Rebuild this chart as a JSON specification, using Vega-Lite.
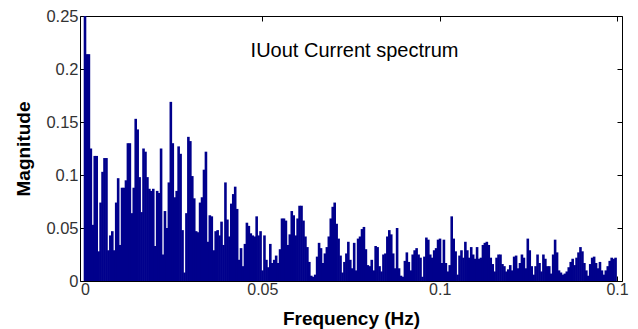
{
"$schema":"https://vega.github.io/schema/vega-lite/v6.json",
"width":542,"height":265,
"autosize":"none",
"padding":{"left":80,"top":16,"right":16,"bottom":48},
"background":"white",
"config":{"view":{"stroke":"#000","strokeWidth":1},"font":"Liberation Sans"},
"layer":[
{"data":{"values":[
{"f":0,"m":0.25},{"f":0.00055,"m":0.214},{"f":0.0011,"m":0.214},{"f":0.00165,"m":0.125},{"f":0.0022,"m":0.053},{"f":0.00275,"m":0.118},{"f":0.0033,"m":0.118},{"f":0.00385,"m":0.028},{"f":0.0044,"m":0.074},{"f":0.00495,"m":0.103},
{"f":0.0055,"m":0.116},{"f":0.00605,"m":0.116},{"f":0.0066,"m":0.029},{"f":0.00715,"m":0.043},{"f":0.0077,"m":0.047},{"f":0.00825,"m":0.029},{"f":0.0088,"m":0.074},{"f":0.00935,"m":0.097},{"f":0.0099,"m":0.034},{"f":0.01045,"m":0.088},
{"f":0.011,"m":0.088},{"f":0.01155,"m":0.095},{"f":0.0121,"m":0.13},{"f":0.01265,"m":0.13},{"f":0.0132,"m":0.064},{"f":0.01375,"m":0.088},{"f":0.0143,"m":0.153},{"f":0.01485,"m":0.143},{"f":0.0154,"m":0.098},{"f":0.01595,"m":0.065},
{"f":0.0165,"m":0.125},{"f":0.01705,"m":0.122},{"f":0.0176,"m":0.098},{"f":0.01815,"m":0.087},{"f":0.0187,"m":0.085},{"f":0.01925,"m":0.087},{"f":0.0198,"m":0.033},{"f":0.02035,"m":0.085},{"f":0.0209,"m":0.083},{"f":0.02145,"m":0.125},
{"f":0.022,"m":0.025},{"f":0.02255,"m":0.066},{"f":0.0231,"m":0.05},{"f":0.02365,"m":0.093},{"f":0.0242,"m":0.169},{"f":0.02475,"m":0.13},{"f":0.0253,"m":0.079},{"f":0.02585,"m":0.085},{"f":0.0264,"m":0.127},{"f":0.02695,"m":0.12},
{"f":0.0275,"m":0.048},{"f":0.02805,"m":0.008},{"f":0.0286,"m":0.064},{"f":0.02915,"m":0.136},{"f":0.0297,"m":0.132},{"f":0.03025,"m":0.099},{"f":0.0308,"m":0.078},{"f":0.03135,"m":0.047},{"f":0.0319,"m":0.046},{"f":0.03245,"m":0.074},
{"f":0.033,"m":0.079},{"f":0.03355,"m":0.105},{"f":0.0341,"m":0.122},{"f":0.03465,"m":0.037},{"f":0.0352,"m":0.062},{"f":0.03575,"m":0.061},{"f":0.0363,"m":0.029},{"f":0.03685,"m":0.047},{"f":0.0374,"m":0.048},{"f":0.03795,"m":0.043},
{"f":0.0385,"m":0.056},{"f":0.03905,"m":0.034},{"f":0.0396,"m":0.093},{"f":0.04015,"m":0.058},{"f":0.0407,"m":0.042},{"f":0.04125,"m":0.073},{"f":0.0418,"m":0.082},{"f":0.04235,"m":0.089},{"f":0.0429,"m":0.068},{"f":0.04345,"m":0.02},
{"f":0.044,"m":0.031},{"f":0.04455,"m":0.014},{"f":0.0451,"m":0.035},{"f":0.04565,"m":0.055},{"f":0.0462,"m":0.052},{"f":0.04675,"m":0.045},{"f":0.0473,"m":0.043},{"f":0.04785,"m":0.042},{"f":0.0484,"m":0.061},{"f":0.04895,"m":0.043},
{"f":0.0495,"m":0.047},{"f":0.05005,"m":0.01},{"f":0.0506,"m":0.043},{"f":0.05115,"m":0.02},{"f":0.0517,"m":0.013},{"f":0.05225,"m":0.035},{"f":0.0528,"m":0.017},{"f":0.05335,"m":0.02},{"f":0.0539,"m":0.024},{"f":0.05445,"m":0.017},
{"f":0.055,"m":0.03},{"f":0.05555,"m":0.059},{"f":0.0561,"m":0.059},{"f":0.05665,"m":0.057},{"f":0.0572,"m":0.034},{"f":0.05775,"m":0.044},{"f":0.0583,"m":0.066},{"f":0.05885,"m":0.062},{"f":0.0594,"m":0.043},{"f":0.05995,"m":0.059},
{"f":0.0605,"m":0.071},{"f":0.06105,"m":0.071},{"f":0.0616,"m":0.057},{"f":0.06215,"m":0.042},{"f":0.0627,"m":0.032},{"f":0.06325,"m":0.018},{"f":0.0638,"m":0.005},{"f":0.06435,"m":0.004},{"f":0.0649,"m":0.006},{"f":0.06545,"m":0.023},
{"f":0.066,"m":0.036},{"f":0.06655,"m":0.031},{"f":0.0671,"m":0.017},{"f":0.06765,"m":0.026},{"f":0.0682,"m":0.032},{"f":0.06875,"m":0.042},{"f":0.0693,"m":0.059},{"f":0.06985,"m":0.07},{"f":0.0704,"m":0.074},{"f":0.07095,"m":0.054},
{"f":0.0715,"m":0.04},{"f":0.07205,"m":0.024},{"f":0.0726,"m":0.008},{"f":0.07315,"m":0.018},{"f":0.0737,"m":0.026},{"f":0.07425,"m":0.037},{"f":0.0748,"m":0.02},{"f":0.07535,"m":0.012},{"f":0.0759,"m":0.036},{"f":0.07645,"m":0.01},
{"f":0.077,"m":0.04},{"f":0.07755,"m":0.042},{"f":0.0781,"m":0.049},{"f":0.07865,"m":0.051},{"f":0.0792,"m":0.03},{"f":0.07975,"m":0.015},{"f":0.0803,"m":0.014},{"f":0.08085,"m":0.02},{"f":0.0814,"m":0.01},{"f":0.08195,"m":0.033},
{"f":0.0825,"m":0.032},{"f":0.08305,"m":0.014},{"f":0.0836,"m":0.009},{"f":0.08415,"m":0.025},{"f":0.0847,"m":0.026},{"f":0.08525,"m":0.042},{"f":0.0858,"m":0.048},{"f":0.08635,"m":0.044},{"f":0.0869,"m":0.026},{"f":0.08745,"m":0.012},
{"f":0.088,"m":0.05},{"f":0.08855,"m":0.012},{"f":0.0891,"m":0.005},{"f":0.08965,"m":0.004},{"f":0.0902,"m":0.019},{"f":0.09075,"m":0.027},{"f":0.0913,"m":0.018},{"f":0.09185,"m":0.01},{"f":0.0924,"m":0.025},{"f":0.09295,"m":0.029},
{"f":0.0935,"m":0.031},{"f":0.09405,"m":0.025},{"f":0.0946,"m":0.022},{"f":0.09515,"m":0.004},{"f":0.0957,"m":0.023},{"f":0.09625,"m":0.041},{"f":0.0968,"m":0.039},{"f":0.09735,"m":0.025},{"f":0.0979,"m":0.022},{"f":0.09845,"m":0.029},
{"f":0.099,"m":0.031},{"f":0.09955,"m":0.039},{"f":0.1001,"m":0.04},{"f":0.10065,"m":0.017},{"f":0.1012,"m":0.039},{"f":0.10175,"m":0.017},{"f":0.1023,"m":0.009},{"f":0.10285,"m":0.015},{"f":0.1034,"m":0.061},{"f":0.10395,"m":0.04},
{"f":0.1045,"m":0.028},{"f":0.10505,"m":0.006},{"f":0.1056,"m":0.024},{"f":0.10615,"m":0.029},{"f":0.1067,"m":0.022},{"f":0.10725,"m":0.037},{"f":0.1078,"m":0.029},{"f":0.10835,"m":0.022},{"f":0.1089,"m":0.032},{"f":0.10945,"m":0.025},
{"f":0.11,"m":0.021},{"f":0.11055,"m":0.032},{"f":0.1111,"m":0.021},{"f":0.11165,"m":0.022},{"f":0.1122,"m":0.034},{"f":0.11275,"m":0.036},{"f":0.1133,"m":0.037},{"f":0.11385,"m":0.034},{"f":0.1144,"m":0.022},{"f":0.11495,"m":0.016},
{"f":0.1155,"m":0.009},{"f":0.11605,"m":0.022},{"f":0.1166,"m":0.025},{"f":0.11715,"m":0.025},{"f":0.1177,"m":0.016},{"f":0.11825,"m":0.014},{"f":0.1188,"m":0.009},{"f":0.11935,"m":0.011},{"f":0.1199,"m":0.015},{"f":0.12045,"m":0.01},
{"f":0.121,"m":0.023},{"f":0.12155,"m":0.024},{"f":0.1221,"m":0.012},{"f":0.12265,"m":0.017},{"f":0.1232,"m":0.025},{"f":0.12375,"m":0.022},{"f":0.1243,"m":0.012},{"f":0.12485,"m":0.04},{"f":0.1254,"m":0.029},{"f":0.12595,"m":0.014},
{"f":0.1265,"m":0.006},{"f":0.12705,"m":0.014},{"f":0.1276,"m":0.025},{"f":0.12815,"m":0.017},{"f":0.1287,"m":0.009},{"f":0.12925,"m":0.025},{"f":0.1298,"m":0.021},{"f":0.13035,"m":0.014},{"f":0.1309,"m":0.014},{"f":0.13145,"m":0.007},
{"f":0.132,"m":0.025},{"f":0.13255,"m":0.039},{"f":0.1331,"m":0.027},{"f":0.13365,"m":0.01},{"f":0.1342,"m":0.008},{"f":0.13475,"m":0.006},{"f":0.1353,"m":0.007},{"f":0.13585,"m":0.009},{"f":0.1364,"m":0.013},{"f":0.13695,"m":0.018},
{"f":0.1375,"m":0.021},{"f":0.13805,"m":0.015},{"f":0.1386,"m":0.022},{"f":0.13915,"m":0.027},{"f":0.1397,"m":0.032},{"f":0.14025,"m":0.028},{"f":0.1408,"m":0.017},{"f":0.14135,"m":0.01},{"f":0.1419,"m":0.005},{"f":0.14245,"m":0.016},
{"f":0.143,"m":0.022},{"f":0.14355,"m":0.023},{"f":0.1441,"m":0.017},{"f":0.14465,"m":0.012},{"f":0.1452,"m":0.018},{"f":0.14575,"m":0.01},{"f":0.1463,"m":0.006},{"f":0.14685,"m":0.01},{"f":0.1474,"m":0.014},{"f":0.14795,"m":0.019},
{"f":0.1485,"m":0.022},{"f":0.14905,"m":0.021},{"f":0.1496,"m":0.022}
]},
"mark":{"type":"bar","color":"#00008c","width":2.6,"opacity":1,"clip":true},
"encoding":{
"x":{"field":"f","type":"quantitative","scale":{"domain":[0,0.15],"nice":false,"zero":false},
"axis":{"orient":"bottom","values":[0,0.05,0.1,0.15],"format":".2~f","labelExpr":"datum.value > 0.12 ? '0.1' : datum.label","grid":false,"domain":false,"ticks":true,"tickSize":-5,"tickColor":"#000","labelFontSize":16,"labelColor":"#333","labelPadding":5,"labelFlush":false,"labelOverlap":false,"title":"Frequency (Hz)","titleFontSize":19,"titleFontWeight":"bold","titleColor":"#000","titleX":271,"titleY":43,"titleBaseline":"alphabetic","titleAlign":"center"}},
"y":{"field":"m","type":"quantitative","scale":{"domain":[0,0.25],"nice":false},
"axis":{"orient":"left","values":[0,0.05,0.1,0.15,0.2,0.25],"format":".2~f","grid":false,"domain":false,"tickSize":-5,"tickColor":"#000","labelFontSize":16.5,"labelColor":"#333","labelPadding":7,"labelOverlap":false,"title":"Magnitude","titleFontSize":19,"titleFontWeight":"bold","titleColor":"#000","titleX":-51,"titleY":132.5,"titleAngle":-90,"titleBaseline":"alphabetic","titleAlign":"center"}}
}},
{"data":{"values":[{"label":"IUout Current spectrum"}]},
"mark":{"type":"text","fontSize":20,"color":"#000","baseline":"alphabetic","align":"center"},
"encoding":{
"text":{"field":"label"},
"x":{"datum":0.076,"type":"quantitative","scale":{"domain":[0,0.15],"nice":false,"zero":false},
"axis":{"orient":"top","values":[0,0.05,0.1,0.15],"labels":false,"title":null,"grid":false,"domain":false,"tickSize":-5,"tickColor":"#000"}},
"y":{"datum":0.2113,"type":"quantitative","scale":{"domain":[0,0.25],"nice":false},
"axis":{"orient":"right","values":[0,0.05,0.1,0.15,0.2,0.25],"labels":false,"title":null,"grid":false,"domain":false,"tickSize":-5,"tickColor":"#000"}}
}}
],
"resolve":{"axis":{"x":"independent","y":"independent"}}
}
